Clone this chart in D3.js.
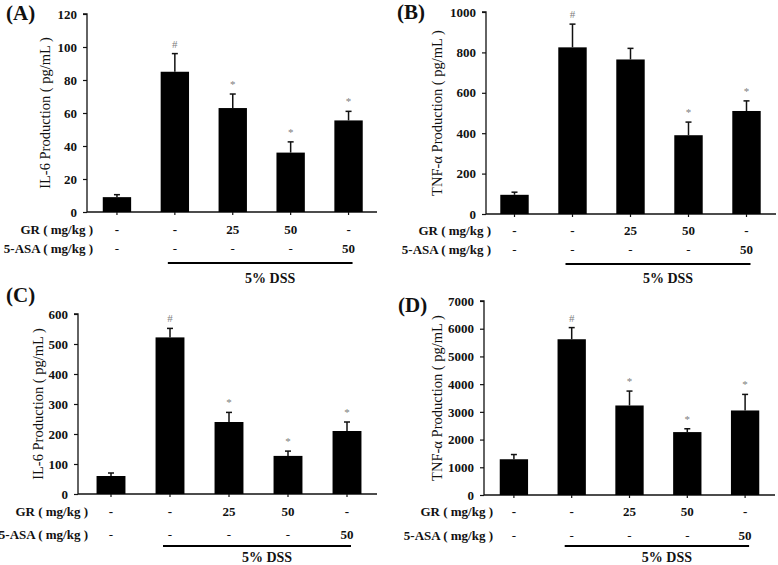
<!DOCTYPE html>
<html>
<head>
<meta charset="utf-8">
<script src="https://cdn.jsdelivr.net/npm/d3@7"></script>
<style>
  html, body { margin: 0; padding: 0; background: #fff; }
  svg { display: block; }
  text { font-family: "Liberation Serif", "Times New Roman", serif; }
</style>
</head>
<body>
<svg id="chart" width="778" height="565"></svg>
<script>
// ---------- data ----------
const groups = ["Normal", "DSS", "DSS+GR25", "DSS+GR50", "DSS+5-ASA50"];
const grRow = ["-", "-", "25", "50", "-"];
const asaRow = ["-", "-", "-", "-", "50"];

const il6ColonValues = [9, 85, 63, 36, 55.5];
const il6ColonErrors = [1.5, 11, 8.5, 6.5, 5.5];
const il6ColonMarks = ["", "#", "*", "*", "*"];
const il6ColonTicks = [0, 20, 40, 60, 80, 100, 120];

const tnfColonValues = [95, 825, 765, 390, 510];
const tnfColonErrors = [13, 115, 55, 65, 50];
const tnfColonMarks = ["", "#", "", "*", "*"];
const tnfColonTicks = [0, 200, 400, 600, 800, 1000];

const il6SerumValues = [60, 522, 240, 127, 210];
const il6SerumErrors = [10, 30, 32, 16, 30];
const il6SerumMarks = ["", "#", "*", "*", "*"];
const il6SerumTicks = [0, 100, 200, 300, 400, 500, 600];

const tnfSerumValues = [1290, 5620, 3230, 2270, 3050];
const tnfSerumErrors = [170, 420, 520, 120, 580];
const tnfSerumMarks = ["", "#", "*", "*", "*"];
const tnfSerumTicks = [0, 1000, 2000, 3000, 4000, 5000, 6000, 7000];

// ---------- panels (layout) ----------
const panels = [
  { letter: "(A)", letterX: 6, letterY: 20, ylabel: "IL-6 Production ( pg/mL )",
    values: il6ColonValues, errors: il6ColonErrors, marks: il6ColonMarks, ticks: il6ColonTicks,
    axisX: 87, x0: 88, x1: 377.5, xEnd: 377, top: 14, bottom: 212, ylabelX: 45, rowLabelRight: 93,
    grY: 234, asaY: 253, lineY: 263, dssY: 283 },
  { letter: "(B)", letterX: 397, letterY: 19, ylabel: "TNF-\u03b1 Production ( pg/mL )",
    values: tnfColonValues, errors: tnfColonErrors, marks: tnfColonMarks, ticks: tnfColonTicks,
    axisX: 486, x0: 485.5, x1: 775.5, xEnd: 776, top: 12, bottom: 214, ylabelX: 437, rowLabelRight: 491,
    grY: 235, asaY: 254, lineY: 264, dssY: 283 },
  { letter: "(C)", letterX: 6, letterY: 302, ylabel: "IL-6 Production ( pg/mL )",
    values: il6SerumValues, errors: il6SerumErrors, marks: il6SerumMarks, ticks: il6SerumTicks,
    axisX: 78, x0: 81.5, x1: 376.5, xEnd: 377, top: 314, bottom: 494, ylabelX: 38, rowLabelRight: 88,
    grY: 516, asaY: 539, lineY: 546, dssY: 562 },
  { letter: "(D)", letterX: 398, letterY: 312, ylabel: "TNF-\u03b1 Production ( pg/mL )",
    values: tnfSerumValues, errors: tnfSerumErrors, marks: tnfSerumMarks, ticks: tnfSerumTicks,
    axisX: 484, x0: 485, x1: 774, xEnd: 775, top: 301, bottom: 495, ylabelX: 437, rowLabelRight: 493,
    grY: 516, asaY: 540, lineY: 546, dssY: 562 }
];

const svg = d3.select("#chart");
const ink = "#111";

panels.forEach(p => {
  const g = svg.append("g");
  const x = d3.scaleBand().domain(groups).range([p.x0, p.x1]).paddingInner(0.51).paddingOuter(0.255);
  const maxT = p.ticks[p.ticks.length - 1];
  const y = d3.scaleLinear().domain([0, maxT]).range([p.bottom, p.top]);
  const cx = d => x(d) + x.bandwidth() / 2;

  // y axis
  const yAxis = d3.axisLeft(y).tickValues(p.ticks).tickSize(4).tickPadding(6).tickFormat(d3.format("d"));
  const ya = g.append("g").attr("transform", `translate(${p.axisX},0)`).call(yAxis);
  ya.select(".domain").attr("stroke", ink).attr("stroke-width", 1.3).attr("d", `M-4,${p.top}H0V${p.bottom}`);
  ya.selectAll(".tick line").attr("stroke", ink).attr("stroke-width", 1.2);
  ya.selectAll(".tick text").attr("fill", ink).style("font-size", "13px").style("font-weight", "bold")
    .style("font-family", "'Liberation Serif', serif");

  // x axis
  g.append("line").attr("x1", p.axisX).attr("x2", p.xEnd).attr("y1", p.bottom).attr("y2", p.bottom)
    .attr("stroke", ink).attr("stroke-width", 1.3);
  g.selectAll(".xt").data(groups).join("line").attr("class", "xt")
    .attr("x1", cx).attr("x2", cx).attr("y1", p.bottom).attr("y2", p.bottom + 3)
    .attr("stroke", ink).attr("stroke-width", 1.2);

  // bars
  g.selectAll(".bar").data(groups).join("rect").attr("class", "bar")
    .attr("x", d => x(d)).attr("width", x.bandwidth())
    .attr("y", (d, i) => y(p.values[i])).attr("height", (d, i) => p.bottom - y(p.values[i]))
    .attr("fill", "#000");

  // error bars (upper only)
  g.selectAll(".err").data(groups).join("line").attr("class", "err")
    .attr("x1", cx).attr("x2", cx)
    .attr("y1", (d, i) => y(p.values[i])).attr("y2", (d, i) => y(p.values[i] + p.errors[i]))
    .attr("stroke", ink).attr("stroke-width", 1.5);
  g.selectAll(".cap").data(groups).join("line").attr("class", "cap")
    .attr("x1", d => cx(d) - 3).attr("x2", d => cx(d) + 3)
    .attr("y1", (d, i) => y(p.values[i] + p.errors[i])).attr("y2", (d, i) => y(p.values[i] + p.errors[i]))
    .attr("stroke", ink).attr("stroke-width", 1.5);

  // significance marks
  g.selectAll(".mark").data(groups).join("text").attr("class", "mark")
    .attr("x", cx).attr("y", (d, i) => y(p.values[i] + p.errors[i]) - 6)
    .attr("text-anchor", "middle").attr("fill", "#808080").style("font-size", "11px")
    .text((d, i) => p.marks[i]);

  // y label
  g.append("text")
    .attr("transform", `translate(${p.ylabelX},${(p.top + p.bottom) / 2}) rotate(-90)`)
    .attr("text-anchor", "middle").attr("dominant-baseline", "central")
    .attr("fill", ink).style("font-size", "14.5px").text(p.ylabel);

  // panel letter
  g.append("text").attr("x", p.letterX).attr("y", p.letterY)
    .attr("fill", ink).style("font-size", "21px").style("font-weight", "bold").text(p.letter);

  // treatment rows
  g.append("text").attr("x", p.rowLabelRight).attr("y", p.grY).attr("text-anchor", "end")
    .attr("fill", ink).style("font-size", "13px").style("font-weight", "bold").text("GR ( mg/kg )");
  g.append("text").attr("x", p.rowLabelRight).attr("y", p.asaY).attr("text-anchor", "end")
    .attr("fill", ink).style("font-size", "13px").style("font-weight", "bold").text("5-ASA ( mg/kg )");
  g.selectAll(".gr").data(groups).join("text").attr("class", "gr")
    .attr("x", cx).attr("y", p.grY).attr("text-anchor", "middle")
    .attr("fill", ink).style("font-size", "13px").style("font-weight", "bold")
    .text((d, i) => grRow[i]);
  g.selectAll(".asa").data(groups).join("text").attr("class", "asa")
    .attr("x", cx).attr("y", p.asaY).attr("text-anchor", "middle")
    .attr("fill", ink).style("font-size", "13px").style("font-weight", (d, i) => asaRow[i] === "-" ? "normal" : "bold")
    .text((d, i) => asaRow[i]);

  // DSS bracket
  const lx1 = cx(groups[1]) - 7, lx2 = cx(groups[4]) + 4;
  g.append("line").attr("x1", lx1).attr("x2", lx2).attr("y1", p.lineY).attr("y2", p.lineY)
    .attr("stroke", "#000").attr("stroke-width", 2);
  g.append("text").attr("x", (lx1 + lx2) / 2 + 10).attr("y", p.dssY).attr("text-anchor", "middle")
    .attr("fill", ink).style("font-size", "14px").style("font-weight", "bold").text("5% DSS");
});
</script>
</body>
</html>
